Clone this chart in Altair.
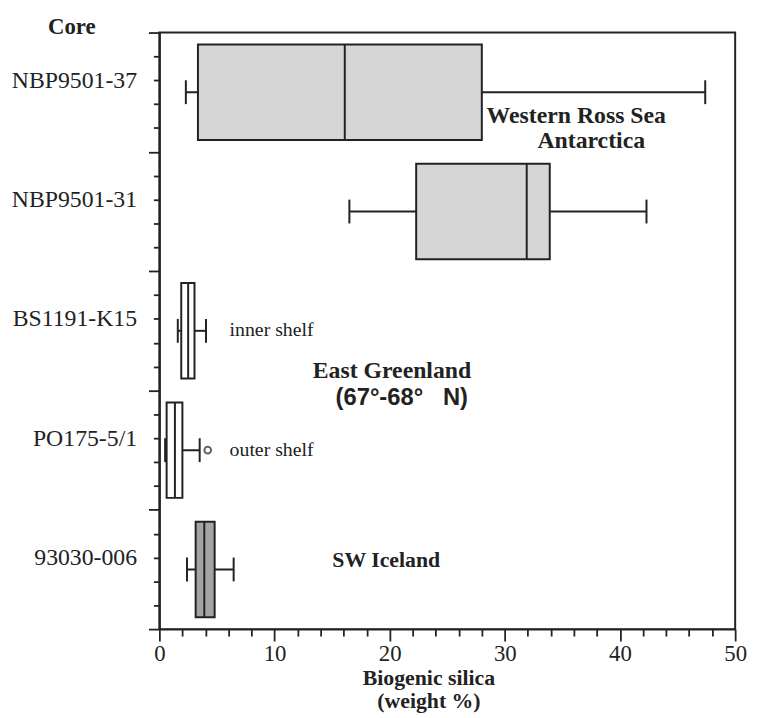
import altair as alt
import pandas as pd

# ---- data ----
cores = ["NBP9501-37", "NBP9501-31", "BS1191-K15", "PO175-5/1", "93030-006"]
mins = [2.3, 16.5, 1.6, 0.5, 2.4]
q1s = [3.35, 22.3, 1.9, 0.63, 3.15]
medians = [16.1, 31.9, 2.5, 1.35, 3.9]
q3s = [28.0, 33.9, 3.05, 2.0, 4.8]
maxs = [47.4, 42.3, 4.05, 3.5, 6.45]
groups = ["Antarctica", "Antarctica", "Greenland", "Greenland", "Iceland"]

outlier_core = ["PO175-5/1"]
outlier_value = [4.2]

# annotations: text, x (weight %), y (core-axis units)
region_text = ["Western Ross Sea", "Antarctica", "East Greenland"]
region_x = [36.2, 37.5, 20.2]
region_y = [3.52, 4.56, 14.18]
iceland_text = ["SW Iceland"]
iceland_x = [19.7]
iceland_y = [22.1]
shelf_text = ["inner shelf", "outer shelf"]
shelf_x = [6.1, 6.1]
shelf_y = [12.48, 17.5]
lat_text = ["(67°-68°\u00a0\u00a0\u00a0N)"]
lat_x = [21.05]
lat_y = [15.3]

x_ticks = list(range(0, 51, 2))
y_ticks = list(range(0, 26))

SERIF = "Liberation Serif"
SANS = "Liberation Sans"
INK = "#222222"

df = pd.DataFrame({
    "core": cores, "idx": list(range(len(cores))), "min": mins, "q1": q1s,
    "median": medians, "q3": q3s, "max": maxs, "group": groups,
})
out_df = pd.DataFrame({"core": outlier_core, "value": outlier_value})
out_df["idx"] = out_df["core"].map({c: i for i, c in enumerate(cores)})

label_array = "[" + ",".join("'" + c + "'" for c in cores) + "]"

xscale = alt.Scale(domain=[0, 50], nice=False, zero=False)
yscale = alt.Scale(domain=[0, 25], reverse=True, nice=False, zero=False)

x_axis = alt.Axis(
    values=x_ticks, tickCount=200,
    labelExpr="datum.value % 10 === 0 ? datum.value : ''",
    tickSize={"condition": {"test": "datum.value % 10 === 0", "value": 12}, "value": 7},
    title=["Biogenic silica", "(weight %)"],
    titleFont=SERIF, titleFontSize=22, titleFontWeight="bold", titleColor=INK,
    titleX=272, titleY=39, titleAlign="center", titleBaseline="top", titleLineHeight=23,
    labelFont=SERIF, labelFontSize=23, labelColor=INK, labelPadding=2,
    labelFlush=False, labelOverlap=False,
    grid=False, domainColor=INK, domainWidth=2, tickColor=INK, tickWidth=1.8,
)
y_axis = alt.Axis(
    values=y_ticks, tickCount=200,
    labelExpr="datum.value % 5 === 2 ? " + label_array + "[floor(datum.value / 5)] : ''",
    tickSize={"condition": {"test": "datum.value % 5 === 0", "value": 11}, "value": 6},
    title="Core", titleAngle=0, titleX=-89, titleY=-6, titleAlign="center",
    titleBaseline="middle", titleFont=SERIF, titleFontSize=23, titleFontWeight="bold",
    titleColor=INK,
    labelFont=SERIF, labelFontSize=24, labelColor=INK, labelPadding=17,
    labelOverlap=False, labelFlush=False, labelBaseline="middle",
    grid=False, domainColor=INK, domainWidth=2, tickColor=INK, tickWidth=1.8,
)

base = alt.Chart(df).transform_calculate(
    yc="datum.idx * 5 + 2.5",
    lo="datum.idx * 5 + 0.5",
    hi="datum.idx * 5 + 4.5",
    caplo="datum.idx * 5 + 2.0",
    caphi="datum.idx * 5 + 3.0",
)

whisker = base.mark_rule(color=INK, strokeWidth=2).encode(
    x=alt.X("min:Q", scale=xscale, axis=x_axis),
    x2="max:Q",
    y=alt.Y("yc:Q", scale=yscale, axis=y_axis),
)
cap_min = base.mark_rule(color=INK, strokeWidth=2).encode(
    x="min:Q", y="caplo:Q", y2="caphi:Q")
cap_max = base.mark_rule(color=INK, strokeWidth=2).encode(
    x="max:Q", y="caplo:Q", y2="caphi:Q")
box = base.mark_rect(stroke=INK, strokeWidth=2).encode(
    x="q1:Q", x2="q3:Q", y="lo:Q", y2="hi:Q",
    fill=alt.Fill("group:N", legend=None,
                  scale=alt.Scale(domain=["Antarctica", "Greenland", "Iceland"],
                                  range=["#d6d6d6", "#ffffff", "#a4a4a4"])),
)
median = base.mark_rule(color=INK, strokeWidth=2).encode(
    x="median:Q", y="lo:Q", y2="hi:Q")

outlier = alt.Chart(out_df).transform_calculate(
    yc="datum.idx * 5 + 2.5"
).mark_point(shape="circle", size=45, filled=False, color=INK, strokeWidth=2).encode(
    x="value:Q", y="yc:Q")


def text_layer(texts, xs, ys, **style):
    d = pd.DataFrame({"text": texts, "x": xs, "y": ys})
    return alt.Chart(d).mark_text(color=INK, baseline="middle", **style).encode(
        x="x:Q", y="y:Q", text="text:N")


ann_region = text_layer(region_text, region_x, region_y,
                        font=SERIF, fontSize=24, fontWeight="bold", align="center")
ann_iceland = text_layer(iceland_text, iceland_x, iceland_y,
                         font=SERIF, fontSize=22, fontWeight="bold", align="center")
ann_shelf = text_layer(shelf_text, shelf_x, shelf_y,
                       font=SERIF, fontSize=20, align="left")
ann_lat = text_layer(lat_text, lat_x, lat_y,
                     font=SANS, fontSize=24, fontWeight="bold", align="center")

chart = alt.layer(
    whisker, cap_min, cap_max, box, median, outlier,
    ann_region, ann_iceland, ann_shelf, ann_lat
).properties(
    width=582, height=603,
    autosize=alt.AutoSizeParams(type="none"),
    padding={"left": 153, "top": 21, "right": 15, "bottom": 84},
    background="white",
).configure_view(stroke=INK, strokeWidth=2)

chart.save("out.html", embed_options={"renderer": "svg", "actions": False})
